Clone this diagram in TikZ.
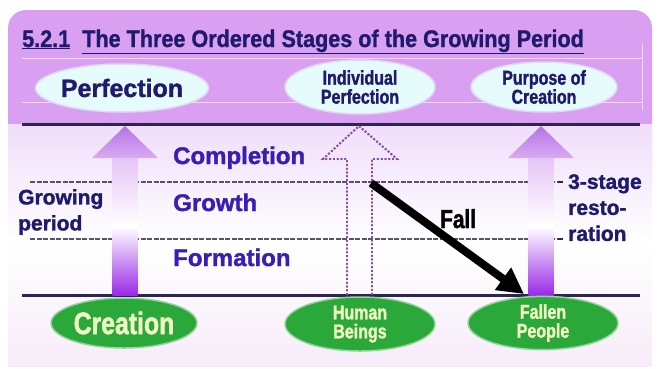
\documentclass[tikz,border=0pt]{standalone}
\usepackage{fontspec}
\setmainfont{Liberation Sans}[BoldFeatures={FakeBold=1.5}]
\newfontfamily\narrowfont{Liberation Sans}[FakeStretch=0.8, BoldFeatures={FakeBold=1.5}]
\newfontfamily\titlefont{Liberation Sans}[FakeStretch=0.9, BoldFeatures={FakeBold=1.2}]
\usetikzlibrary{shapes.geometric,arrows.meta}

\definecolor{navy}{HTML}{1F1A6B}
\definecolor{stageblue}{HTML}{3A1EB4}
\definecolor{paneltop}{HTML}{D9A0F2}
\definecolor{lowtop}{HTML}{F0DEFA}
\definecolor{lowbot}{HTML}{F7ECF9}
\definecolor{goalfill}{HTML}{E6FBFC}
\definecolor{seedgreen}{HTML}{2AA83A}
\definecolor{seedtext}{HTML}{F2F8C4}
\definecolor{rulecol}{HTML}{2E2452}
\definecolor{headtop}{HTML}{B474E4}
\definecolor{headbot}{HTML}{D8ACF2}
\definecolor{shafttop}{HTML}{E6C4F6}
\definecolor{shaftbot}{HTML}{9A2AE6}
\definecolor{dotpurple}{HTML}{8A4AB0}

\tikzset{
  stage/.style={font=\bfseries\fontsize{24}{24}\selectfont, text=stageblue, anchor=base west, inner sep=0},
  sidelabel/.style={font=\bfseries\fontsize{21}{26}\selectfont, text=navy, align=left, anchor=north west, inner sep=0},
  goal/.style={ellipse, fill=goalfill, draw=goalfill!60!paneltop, line width=1.5pt, inner sep=0, text=navy, align=center},
  seed/.style={ellipse, fill=seedgreen, draw=seedgreen!50!white, line width=1.5pt, inner sep=0, text=seedtext, align=center},
  rule/.style={line width=3pt, rulecol},
  level/.style={line width=1.2pt, color=rulecol!80!white, dash pattern=on 5pt off 1.5pt},
}

\newcommand{\stagearrow}[1]{%
  \shade[top color=headtop, bottom color=headbot]
    ({#1-33},158) -- ({#1},126) -- ({#1+33},158) -- cycle;
  \shade[top color=shafttop, bottom color=shaftbot, middle color=white]
    ({#1-12.5},158) rectangle ({#1+12.5},295);}

\begin{document}
\begin{tikzpicture}[x=1pt,y=-1pt]
  \useasboundingbox (0,0) rectangle (660,368);
  % panel
  \fill[paneltop, rounded corners=18] (8,10) rectangle (652,200);
  \shade[top color=lowtop, bottom color=lowbot, middle color=white] (8,124) rectangle (652,366);
  \draw[white!60!paneltop, line width=0.8pt] (22,58) -- (642,58);
  \draw[white!60!paneltop, line width=0.8pt] (22,102) -- (642,102);
  \draw[white!60!paneltop, line width=0.8pt] (642,43) -- (642,110);

  % title
  \node[anchor=base west, inner sep=0, text=navy, font=\titlefont\bfseries\fontsize{24}{24}\selectfont]
    (title) at (22,47) {\underline{5.2.1}\ \ \underline{The Three Ordered Stages of the Growing Period}};

  % goals
  \node[goal, minimum width=148pt, minimum height=48pt, font=\bfseries\fontsize{25}{25}\selectfont]
    (perf) at (122,88) {Perfection};
  \node[goal, minimum width=150pt, minimum height=54pt, font=\narrowfont\bfseries\fontsize{20}{19}\selectfont]
    (indiv) at (360,87) {Individual\\Perfection};
  \node[goal, minimum width=146pt, minimum height=50pt, font=\narrowfont\bfseries\fontsize{20}{19}\selectfont]
    (purpose) at (544,87) {Purpose of\\Creation};

  % levels
  \draw[rule] (22,124) -- (640,124);
  \draw[rule] (22,295) -- (640,295);
  \foreach \y in {182,239} {
    \draw[level] (30,\y) -- (558,\y);
    \draw[line width=1.2pt, rulecol] (558,\y) -- (563,\y);
  }

  % growing arrows
  \foreach \x in {125,541}
    \stagearrow{\x}
  \draw[dotpurple, line width=1.8pt, dotted]
    (347,295) -- (347,159) -- (323,159) -- (359,126) -- (397,159) -- (372,159) -- (372,295);

  % stages
  \node[stage] (completion) at (173,164) {Completion};
  \node[stage] (growth) at (173,211) {Growth};
  \node[stage] (formation) at (173,266) {Formation};
  \node[sidelabel] (growing) at (18,189) {Growing\\period};
  \node[sidelabel] (restore) at (568,174) {3-stage\\resto-\\ration};

  % origins
  \node[seed, minimum width=146pt, minimum height=50pt, font=\narrowfont\bfseries\fontsize{31}{31}\selectfont]
    (creation) at (124,323) {Creation};
  \node[seed, minimum width=150pt, minimum height=54pt, font=\narrowfont\bfseries\fontsize{20}{19}\selectfont]
    (human) at (360,324) {Human\\Beings};
  \node[seed, minimum width=150pt, minimum height=52pt, font=\narrowfont\bfseries\fontsize{20}{19}\selectfont]
    (fallen) at (543,323) {Fallen\\People};

  % fall
  \coordinate (fallfrom) at (371,183);
  \coordinate (fallto) at (524,294);
  \draw[line width=8pt, -{Triangle[length=26pt,width=26pt]}] (fallfrom) -- (fallto);
  \node[anchor=base west, inner sep=0, font=\narrowfont\bfseries\fontsize{26}{26}\selectfont] (fall) at (440,228) {Fall};
\end{tikzpicture}
\end{document}
